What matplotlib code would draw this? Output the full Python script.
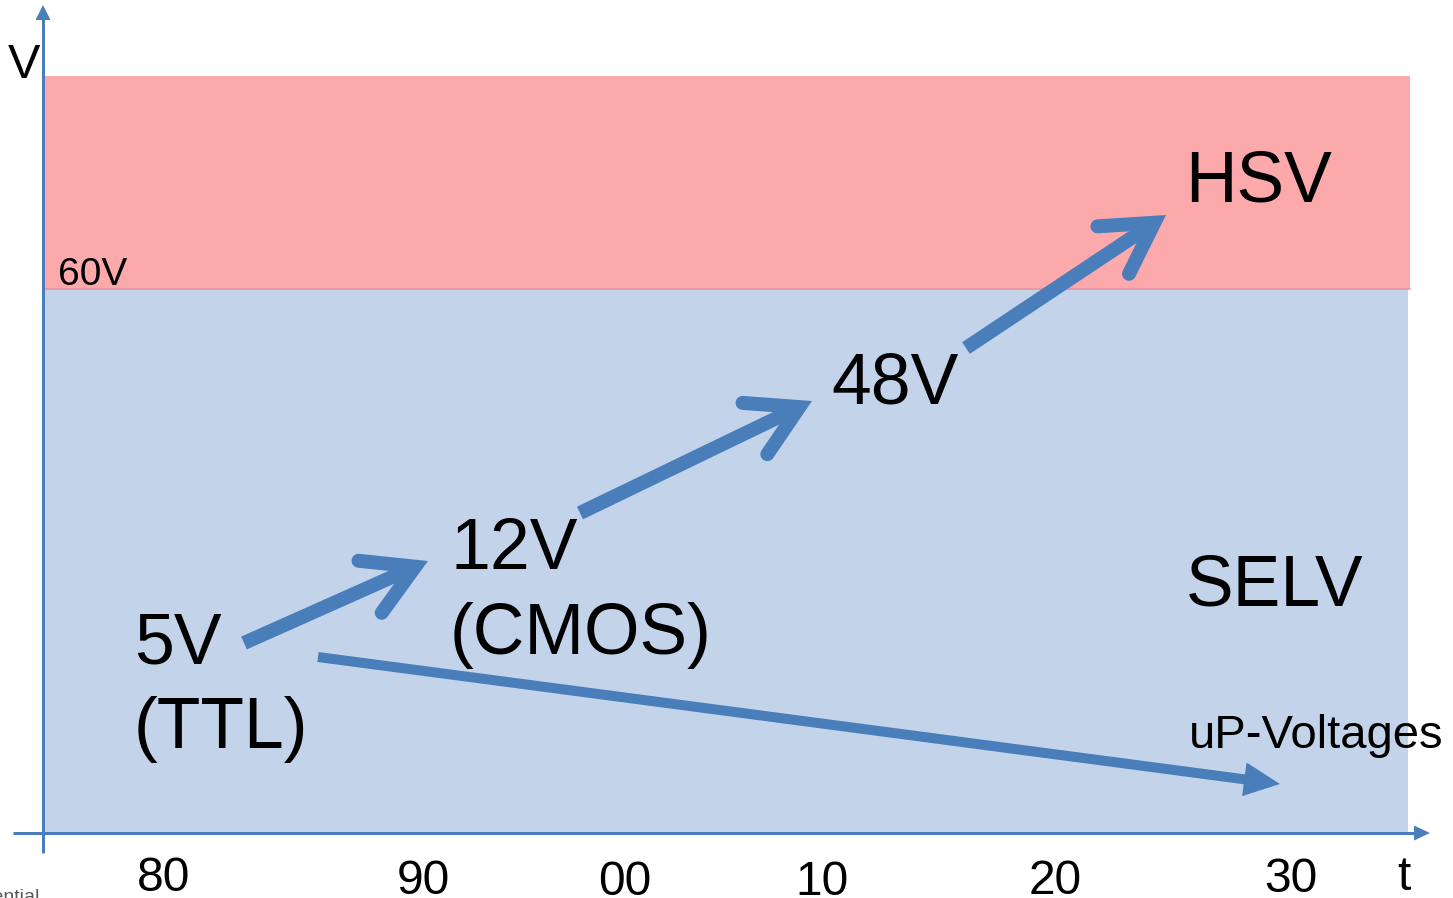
import numpy as np
import matplotlib
matplotlib.use('Agg')
from matplotlib import pyplot as plt
from matplotlib.patches import Rectangle, Polygon
from matplotlib.lines import Line2D

plt.rcParams['font.family'] = ['Liberation Sans', 'DejaVu Sans']

W, H = 1453, 898
PX = 0.72          # points per pixel at dpi 100

# decades along the time axis
decades = ['80', '90', '00', '10', '20', '30']
# supply voltage steps, one text line each
steps = [['5V', '(TTL)'], ['12V', '(CMOS)'], ['48V']]
zones = ['HSV', 'SELV']
limit_label = '60V'
trend_label = 'uP-Voltages'

# layout (pixels)
decade_x = [164, 423, 625, 822, 1055, 1291]
decade_base = [891, 894, 895, 895, 894, 892]
step_xy = [(134, 663), (450, 569), (831, 404)]
zone_xy = [(1185, 202), (1186, 605)]
line_gap = 85
step_arrows = [((244, 643), (428, 561)),
               ((580, 513), (812, 401)),
               ((966, 348), (1166, 215))]
trend_arrow = ((318, 657), (1280, 784))

arrow_c = '#4A7EBB'
red_c = '#FCA9AB'
blue_c = '#C3D4EA'


def unit(a, b):
    d = np.array(b, float) - np.array(a, float)
    return d / np.linalg.norm(d)


def rot(v, deg):
    r = np.radians(deg)
    return np.array([v[0] * np.cos(r) - v[1] * np.sin(r),
                     v[0] * np.sin(r) + v[1] * np.cos(r)])


def open_arrow(ax, tail, tip, w=14, L=57, half=30):
    tail, tip = np.array(tail, float), np.array(tip, float)
    d = unit(tail, tip)
    v = tip - d * (w / 2) / np.sin(np.radians(half))
    b1 = v + L * rot(-d, half)
    b2 = v + L * rot(-d, -half)
    ax.add_line(Line2D([tail[0], v[0]], [tail[1], v[1]], lw=w * PX,
                       color=arrow_c, solid_capstyle='butt', zorder=4))
    ax.add_line(Line2D([b1[0], v[0], b2[0]], [b1[1], v[1], b2[1]], lw=w * PX,
                       color=arrow_c, solid_capstyle='round',
                       solid_joinstyle='miter', zorder=4))


def solid_arrow(ax, tail, tip, w, hl, hw, z=4):
    tail, tip = np.array(tail, float), np.array(tip, float)
    d = unit(tail, tip)
    n = np.array([-d[1], d[0]])
    base = tip - d * hl
    ax.add_line(Line2D([tail[0], base[0] + d[0]], [tail[1], base[1] + d[1]],
                       lw=w * PX, color=arrow_c, solid_capstyle='butt', zorder=z))
    ax.add_patch(Polygon([tip, base + n * hw, base - n * hw], closed=True,
                         fc=arrow_c, ec='none', zorder=z))


fig = plt.figure(figsize=(W / 100, H / 100), dpi=100)
ax = fig.add_axes([0, 0, 1, 1])
ax.set_xlim(0, W)
ax.set_ylim(H, 0)
ax.axis('off')

# voltage bands
ax.add_patch(Rectangle((44, 76), 1366, 213, fc=red_c, ec='none', zorder=1))
ax.add_patch(Rectangle((44, 289), 1364, 544, fc=blue_c, ec='none', zorder=1))
ax.plot([44, 1410], [289, 289], color='#E3919F', lw=1.5 * PX, zorder=2)

# axes with arrow heads
solid_arrow(ax, (43, 853), (43, 5), 3, 15, 7.5, z=3)
solid_arrow(ax, (13, 833), (1430, 833), 3, 16, 7.5, z=3)

for tail, tip in step_arrows:
    open_arrow(ax, tail, tip)
solid_arrow(ax, trend_arrow[0], trend_arrow[1], 10, 36, 17)

big = 51.5
for lines, (x, y) in zip(steps, step_xy):
    for i, s in enumerate(lines):
        ax.text(x, y + i * line_gap, s, fontsize=big, ha='left', va='baseline', zorder=5)
for s, (x, y) in zip(zones, zone_xy):
    ax.text(x, y, s, fontsize=big, ha='left', va='baseline', zorder=5)

ax.text(58, 285, limit_label, fontsize=28, ha='left', va='baseline', zorder=5)
ax.text(1189, 748, trend_label, fontsize=34, ha='left', va='baseline', zorder=5)
ax.text(8, 78, 'V', fontsize=35, ha='left', va='baseline', zorder=5)

for s, x, y in zip(decades, decade_x, decade_base):
    ax.text(x, y, s, fontsize=34.5, ha='center', va='baseline', zorder=5)
ax.text(1404, 890, 't', fontsize=34.5, ha='center', va='baseline', zorder=5)

ax.text(39, 902, 'Confidential', fontsize=14, color='#595959',
        ha='right', va='baseline', zorder=5)

fig.savefig('out.png', dpi=100)
